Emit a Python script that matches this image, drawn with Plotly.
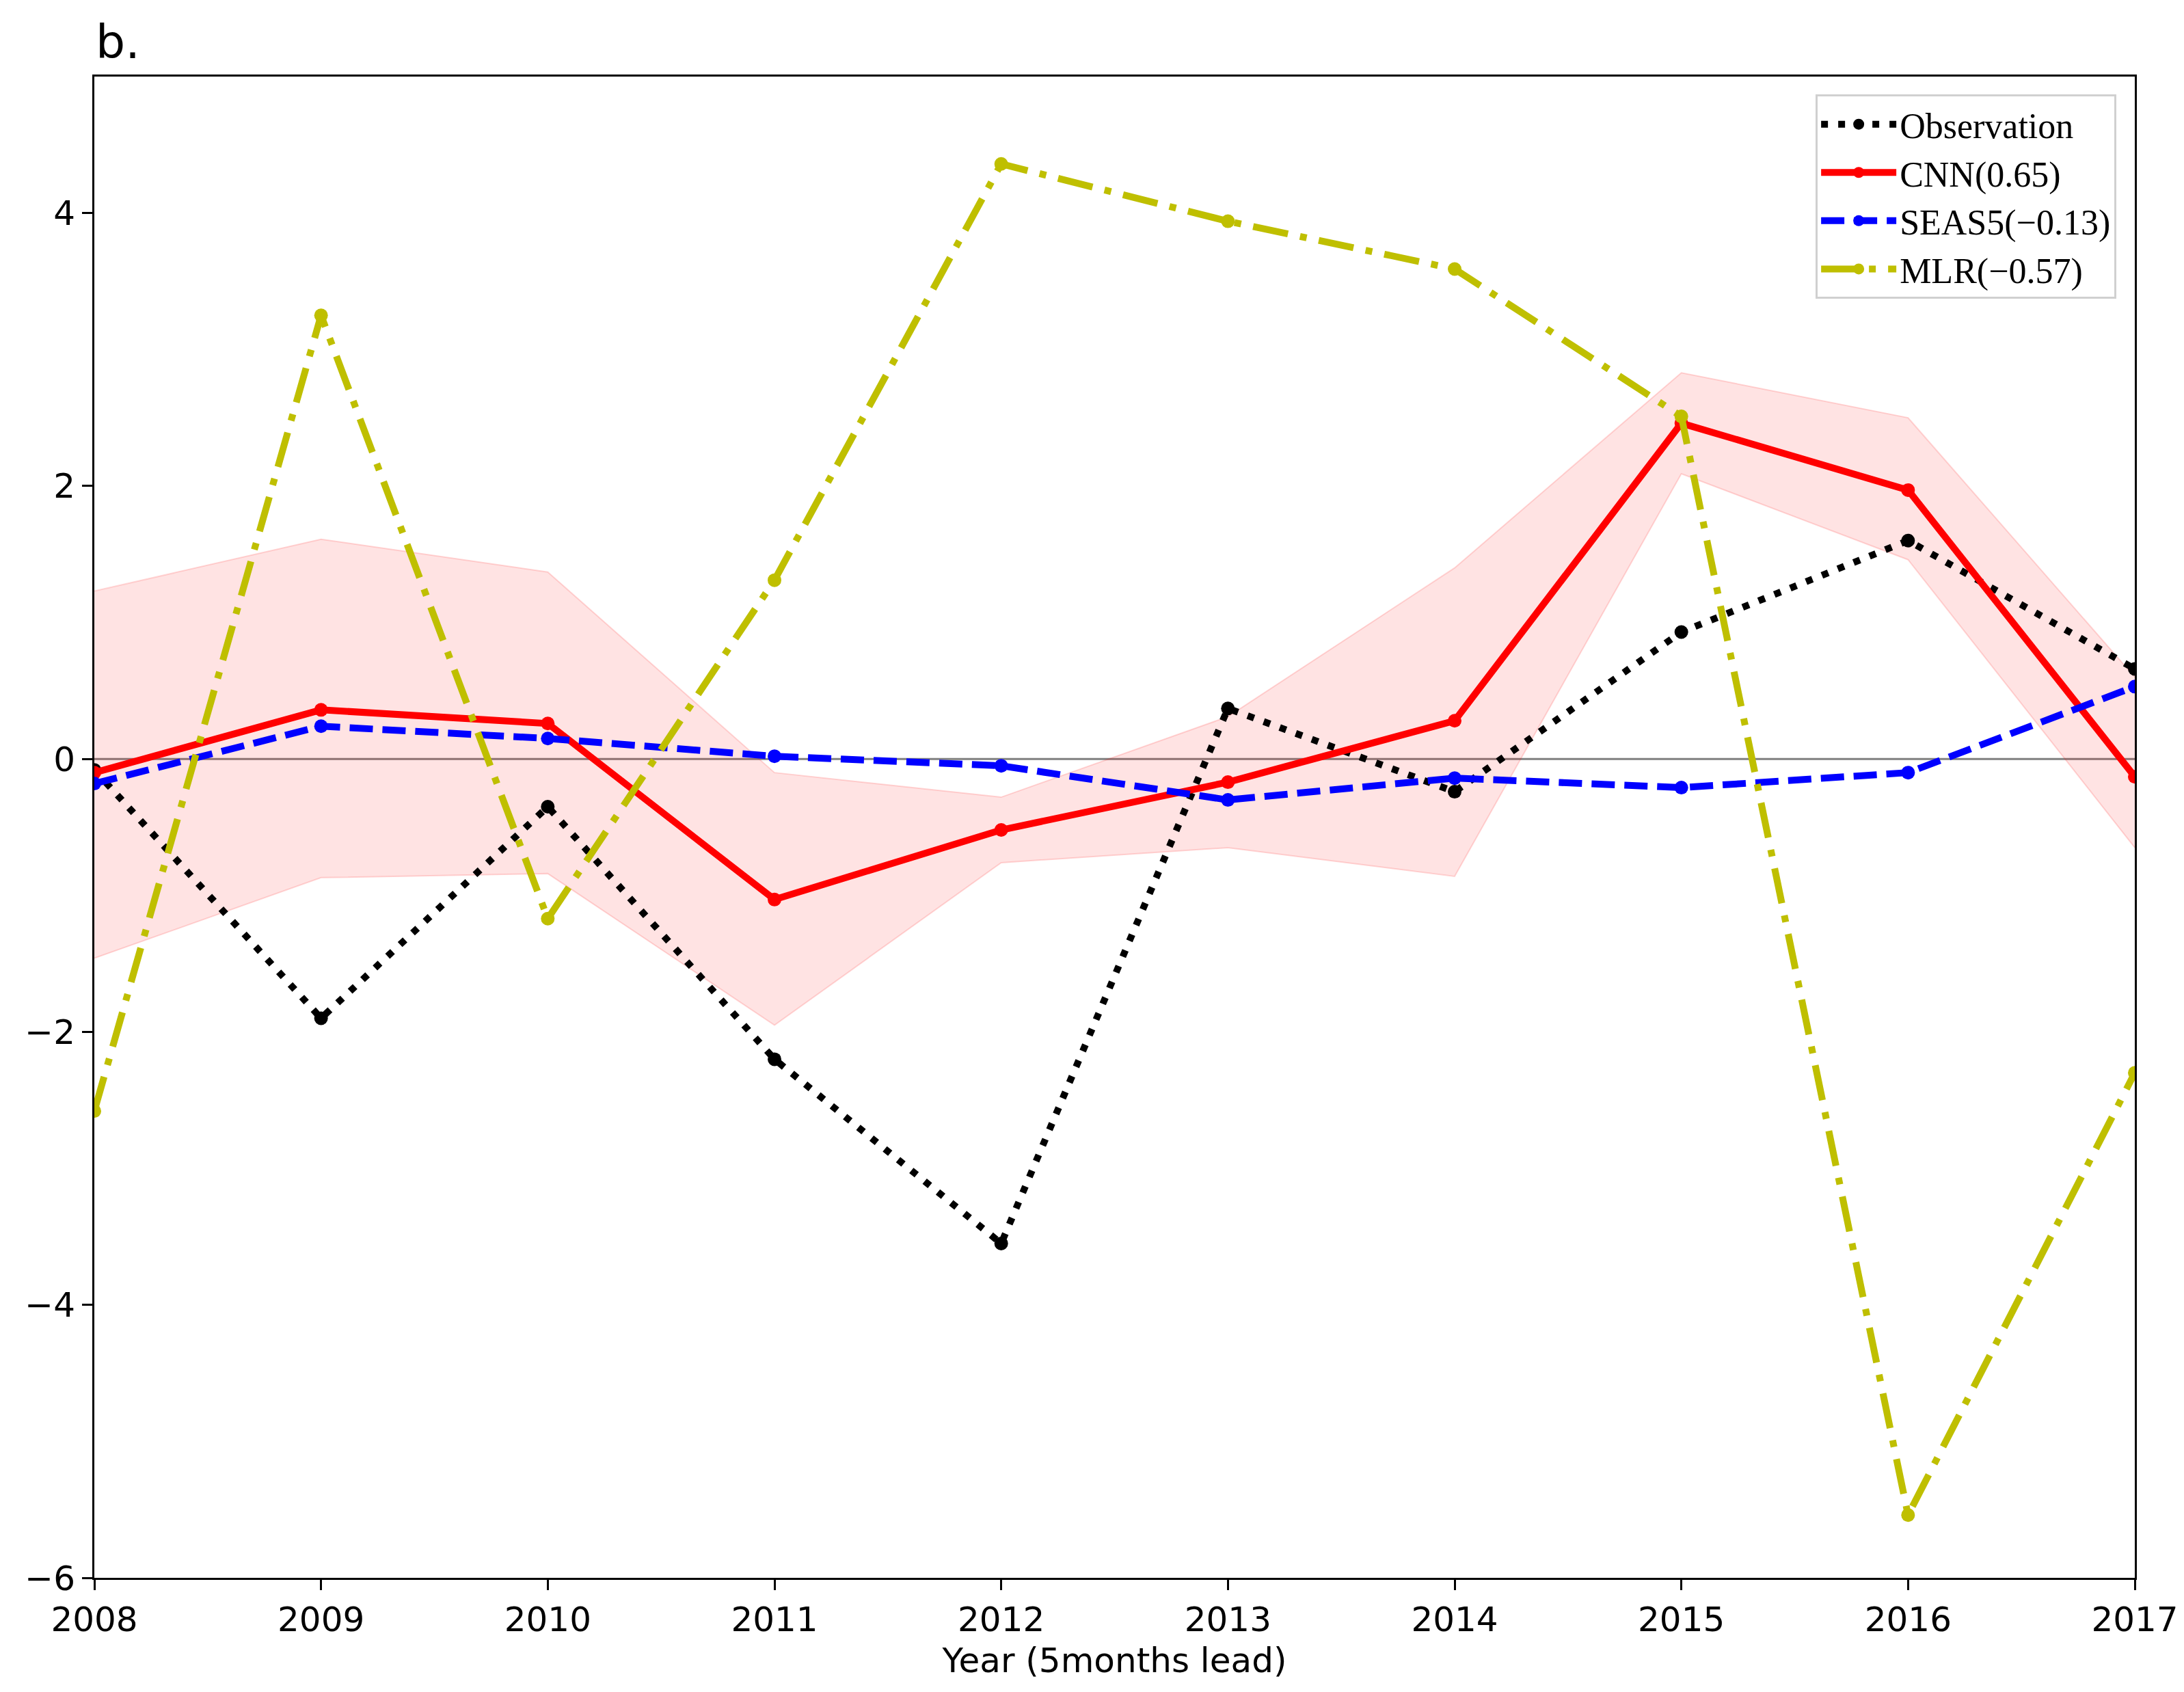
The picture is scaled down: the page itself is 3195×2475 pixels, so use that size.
import plotly.graph_objects as go

years = [2008, 2009, 2010, 2011, 2012, 2013, 2014, 2015, 2016, 2017]
observation = [-0.08, -1.9, -0.35, -2.2, -3.55, 0.37, -0.24, 0.93, 1.6, 0.66]
cnn = [-0.1, 0.36, 0.26, -1.03, -0.52, -0.17, 0.28, 2.46, 1.97, -0.13]
cnn_upper = [1.23, 1.61, 1.37, -0.1, -0.28, 0.31, 1.4, 2.83, 2.5, 0.6]
cnn_lower = [-1.46, -0.87, -0.84, -1.95, -0.76, -0.65, -0.86, 2.09, 1.46, -0.65]
seas5 = [-0.18, 0.24, 0.15, 0.02, -0.05, -0.3, -0.14, -0.21, -0.1, 0.53]
mlr = [-2.58, 3.25, -1.17, 1.31, 4.36, 3.94, 3.59, 2.51, -5.54, -2.3]

names = ["Observation", "CNN(0.65)", "SEAS5(\u22120.13)", "MLR(\u22120.57)"]
x_ticks = years
y_ticks = [-6, -4, -2, 0, 2, 4]

fig = go.Figure()

# uncertainty band
fig.add_trace(go.Scatter(x=years, y=cnn_lower, mode="lines",
                         line=dict(color="rgba(255,0,0,0.15)", width=2),
                         showlegend=False, hoverinfo="skip"))
fig.add_trace(go.Scatter(x=years, y=cnn_upper, mode="lines", fill="tonexty",
                         fillcolor="rgba(255,0,0,0.11)",
                         line=dict(color="rgba(255,0,0,0.15)", width=2),
                         showlegend=False, hoverinfo="skip"))

fig.add_trace(go.Scatter(x=years, y=observation, mode="lines+markers", name=names[0],
                         line=dict(color="black", width=10, dash="10px,15px"),
                         marker=dict(size=20, color="black")))
fig.add_trace(go.Scatter(x=years, y=cnn, mode="lines+markers", name=names[1],
                         line=dict(color="red", width=10),
                         marker=dict(size=20, color="red")))
fig.add_trace(go.Scatter(x=years, y=seas5, mode="lines+markers", name=names[2],
                         line=dict(color="blue", width=10, dash="34px,14px"),
                         marker=dict(size=20, color="blue")))
fig.add_trace(go.Scatter(x=years, y=mlr, mode="lines+markers", name=names[3],
                         line=dict(color="#BFBF00", width=10, dash="52px,18px,10px,18px"),
                         marker=dict(size=20, color="#BFBF00")))

fig.add_hline(y=0, line=dict(color="gray", width=3), layer="below")

axis_common = dict(showline=True, linecolor="black", linewidth=3, mirror=True,
                   ticks="outside", ticklen=15, tickwidth=3, tickcolor="black",
                   showgrid=False, zeroline=False,
                   tickfont=dict(family="DejaVu Sans", size=50, color="black"))

fig.update_layout(
    width=3195, height=2475,
    margin=dict(l=130, r=80, t=104, b=175),
    plot_bgcolor="white", paper_bgcolor="white",
    xaxis=dict(range=[2008, 2017], tickvals=x_ticks,
               title=dict(text="Year (5months lead)", standoff=14,
                          font=dict(family="DejaVu Sans", size=50, color="black")),
               **axis_common),
    yaxis=dict(range=[-6, 5], tickvals=y_ticks,
               ticktext=[str(v).replace("-", "\u2212") for v in y_ticks],
               **axis_common),
    legend=dict(x=0.991, y=0.988, xanchor="right", yanchor="top",
                bgcolor="white", bordercolor="#d0d0d0", borderwidth=3,
                font=dict(family="Liberation Serif", size=52, color="black"),
                itemwidth=110, traceorder="normal", tracegroupgap=0),
    annotations=[dict(text="b.", xref="paper", yref="paper", x=0.0, y=1.004,
                      xanchor="left", yanchor="bottom", showarrow=False,
                      font=dict(family="DejaVu Sans", size=68, color="black"))],
)

fig.write_html("out.html")
